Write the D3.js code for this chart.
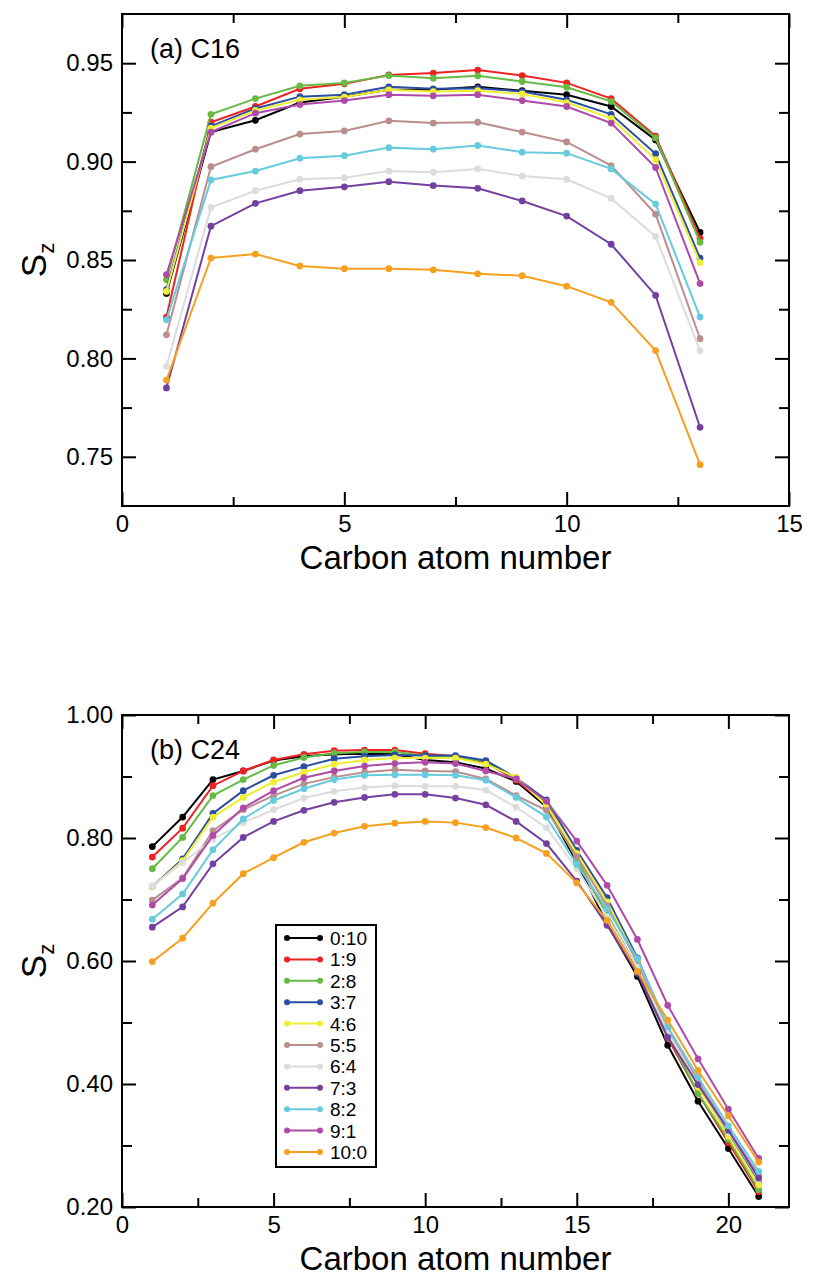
<!DOCTYPE html>
<html>
<head>
<meta charset="utf-8">
<title>Sz order parameter</title>
<script src="https://cdn.jsdelivr.net/npm/d3@7/dist/d3.min.js"></script>
<style>
  body { margin: 0; background: #fff; }
  svg text { font-family: "Liberation Sans", Arial, Helvetica, sans-serif; fill: #000; }
</style>
</head>
<body>
<svg id="chart" width="813" height="1284"></svg>
<script>
// legend labels and colours (same order as the legend)
var ratios = ["0:10", "1:9", "2:8", "3:7", "4:6", "5:5", "6:4", "7:3", "8:2", "9:1", "10:0"];
var colors = ["#000000", "#ee2222", "#66bb44", "#2b4da3", "#eeee33", "#bb8e8e",
  "#dcdcdc", "#7340a0", "#66ccdd", "#b04aa8", "#f7a020"];

// panel (a) C16 : carbon atoms 1..13
var c16Atoms = [1, 2, 3, 4, 5, 6, 7, 8, 9, 10, 11, 12, 13];
var c16 = [
  [0.833, 0.915, 0.921, 0.930, 0.933, 0.9365, 0.9365, 0.938, 0.936, 0.934, 0.928, 0.911, 0.864],
  [0.821, 0.920, 0.928, 0.937, 0.9395, 0.944, 0.945, 0.9465, 0.9437, 0.940, 0.932, 0.913, 0.861],
  [0.840, 0.924, 0.932, 0.9385, 0.940, 0.9437, 0.9424, 0.9436, 0.9407, 0.9378, 0.9306, 0.912, 0.859],
  [0.835, 0.918, 0.927, 0.933, 0.934, 0.938, 0.937, 0.9373, 0.9356, 0.9314, 0.924, 0.904, 0.851],
  [0.834, 0.917, 0.926, 0.9314, 0.9328, 0.9365, 0.9356, 0.936, 0.9344, 0.930, 0.922, 0.901, 0.8486],
  [0.812, 0.8974, 0.9063, 0.914, 0.9156, 0.9207, 0.9196, 0.920, 0.915, 0.910, 0.898, 0.8733, 0.810],
  [0.796, 0.8767, 0.8852, 0.891, 0.8918, 0.8952, 0.8946, 0.8963, 0.8927, 0.891, 0.8813, 0.862, 0.804],
  [0.785, 0.8672, 0.8788, 0.8852, 0.8872, 0.8898, 0.8878, 0.8864, 0.880, 0.8723, 0.858, 0.832, 0.765],
  [0.8196, 0.8907, 0.8952, 0.9017, 0.903, 0.9071, 0.9063, 0.9082, 0.9048, 0.9043, 0.8963, 0.8784, 0.821],
  [0.8426, 0.915, 0.9246, 0.929, 0.931, 0.934, 0.9334, 0.934, 0.931, 0.928, 0.9196, 0.897, 0.838],
  [0.789, 0.851, 0.853, 0.847, 0.8456, 0.8456, 0.845, 0.843, 0.842, 0.8367, 0.8285, 0.804, 0.746]
];

// panel (b) C24 : carbon atoms 1..21
var c24Atoms = [1, 2, 3, 4, 5, 6, 7, 8, 9, 10, 11, 12, 13, 14, 15, 16, 17, 18, 19, 20, 21];
var c24 = [
  [0.786, 0.834, 0.895, 0.909, 0.926, 0.933, 0.936, 0.937, 0.936, 0.927, 0.923, 0.913, 0.892, 0.851, 0.760, 0.660, 0.575, 0.463, 0.372, 0.295, 0.217],
  [0.769, 0.816, 0.885, 0.909, 0.927, 0.936, 0.942, 0.943, 0.943, 0.937, 0.933, 0.923, 0.894, 0.855, 0.765, 0.675, 0.585, 0.475, 0.385, 0.305, 0.225],
  [0.750, 0.801, 0.869, 0.895, 0.918, 0.931, 0.938, 0.940, 0.940, 0.934, 0.931, 0.925, 0.896, 0.858, 0.765, 0.675, 0.590, 0.480, 0.385, 0.310, 0.228],
  [0.721, 0.766, 0.840, 0.877, 0.902, 0.916, 0.929, 0.933, 0.935, 0.934, 0.934, 0.926, 0.898, 0.862, 0.780, 0.703, 0.605, 0.490, 0.400, 0.320, 0.242],
  [0.721, 0.763, 0.834, 0.866, 0.891, 0.907, 0.920, 0.927, 0.930, 0.930, 0.930, 0.920, 0.899, 0.853, 0.775, 0.696, 0.600, 0.485, 0.395, 0.315, 0.236],
  [0.699, 0.735, 0.812, 0.846, 0.869, 0.888, 0.899, 0.907, 0.911, 0.909, 0.908, 0.896, 0.869, 0.845, 0.770, 0.690, 0.598, 0.488, 0.405, 0.325, 0.252],
  [0.722, 0.760, 0.798, 0.825, 0.846, 0.865, 0.876, 0.882, 0.885, 0.884, 0.884, 0.878, 0.850, 0.817, 0.750, 0.672, 0.590, 0.485, 0.400, 0.322, 0.245],
  [0.655, 0.688, 0.758, 0.801, 0.827, 0.845, 0.858, 0.866, 0.871, 0.871, 0.865, 0.854, 0.827, 0.791, 0.730, 0.658, 0.580, 0.476, 0.399, 0.325, 0.247],
  [0.668, 0.709, 0.781, 0.831, 0.861, 0.880, 0.895, 0.902, 0.903, 0.903, 0.902, 0.894, 0.866, 0.834, 0.757, 0.685, 0.604, 0.493, 0.411, 0.332, 0.258],
  [0.691, 0.734, 0.804, 0.849, 0.877, 0.898, 0.909, 0.917, 0.921, 0.923, 0.921, 0.909, 0.896, 0.860, 0.795, 0.723, 0.635, 0.528, 0.441, 0.359, 0.279],
  [0.599, 0.637, 0.694, 0.742, 0.768, 0.793, 0.808, 0.819, 0.824, 0.827, 0.825, 0.817, 0.800, 0.775, 0.727, 0.666, 0.583, 0.504, 0.422, 0.348, 0.273]
];

// axis ticks
var c16XTicks = [0, 5, 10, 15];
var c16XMinor = [2.5, 7.5, 12.5];
var c16YTicks = [0.75, 0.80, 0.85, 0.90, 0.95];
var c16YMinor = [0.775, 0.825, 0.875, 0.925];
var c24XTicks = [0, 5, 10, 15, 20];
var c24XMinor = [2.5, 7.5, 12.5, 17.5];
var c24YTicks = [0.20, 0.40, 0.60, 0.80, 1.00];
var c24YMinor = [0.30, 0.50, 0.70, 0.90];

var svg = d3.select("#chart");

function drawPanel(opt) {
  var left = 122, right = 789;
  var x = d3.scaleLinear().domain(opt.xDomain).range([left, right]);
  var y = d3.scaleLinear().domain(opt.yDomain).range([opt.bottom, opt.top]);
  var g = svg.append("g");

  // ticks on all four sides, pointing inward
  function ticks(axisFn, scale, values, size, pos, fmt) {
    var ax = axisFn(scale).tickValues(values).tickSize(-size).tickPadding(9);
    ax.tickFormat(fmt || "");
    var a = g.append("g").attr("transform", pos).call(ax);
    a.select(".domain").remove();
    a.selectAll("line").attr("stroke", "#000").attr("stroke-width", 2);
    a.selectAll("text").style("font-size", "24px");
    return a;
  }
  var bx = "translate(0," + opt.bottom + ")", tx = "translate(0," + opt.top + ")";
  var ly = "translate(" + left + ",0)", ry = "translate(" + right + ",0)";
  ticks(d3.axisBottom, x, opt.xTicks, 14, bx, d3.format("d"));
  ticks(d3.axisBottom, x, opt.xMinor, 9, bx);
  ticks(d3.axisTop, x, opt.xTicks, 14, tx);
  ticks(d3.axisTop, x, opt.xMinor, 9, tx);
  ticks(d3.axisLeft, y, opt.yTicks, 14, ly, d3.format(".2f"));
  ticks(d3.axisLeft, y, opt.yMinor, 10, ly);
  ticks(d3.axisRight, y, opt.yTicks, 14, ry);
  ticks(d3.axisRight, y, opt.yMinor, 10, ry);

  g.append("rect")
    .attr("x", left).attr("y", opt.top)
    .attr("width", right - left).attr("height", opt.bottom - opt.top)
    .attr("fill", "none").attr("stroke", "#000").attr("stroke-width", 2);

  var line = d3.line()
    .x(function (d) { return x(d[0]); })
    .y(function (d) { return y(d[1]); });
  var marker = d3.symbol().type(d3.symbolCircle).size(36);

  opt.series.forEach(function (vals, i) {
    var pts = opt.atoms.map(function (a, j) { return [a, vals[j]]; });
    var s = g.append("g");
    s.append("path").attr("d", line(pts))
      .attr("fill", "none").attr("stroke", colors[i]).attr("stroke-width", 2);
    s.selectAll("path.m").data(pts).enter().append("path")
      .attr("class", "m")
      .attr("transform", function (d) { return "translate(" + x(d[0]) + "," + y(d[1]) + ")"; })
      .attr("d", marker).attr("fill", colors[i]);
  });

  g.append("text").attr("x", 150).attr("y", opt.top + 44)
    .style("font-size", "27px").text(opt.title);

  g.append("text")
    .attr("x", (left + right) / 2).attr("y", opt.bottom + 63)
    .attr("text-anchor", "middle").style("font-size", "33px")
    .text("Carbon atom number");

  var yl = g.append("text")
    .attr("transform", "translate(46," + ((opt.top + opt.bottom) / 2) + ") rotate(-90)")
    .attr("text-anchor", "middle").style("font-size", "35px");
  yl.append("tspan").text("S");
  yl.append("tspan").attr("dy", 8).style("font-size", "22px").text("z");

  return { x: x, y: y, g: g };
}

drawPanel({
  xDomain: [0, 15], yDomain: [0.725, 0.975], top: 14, bottom: 506,
  xTicks: c16XTicks, xMinor: c16XMinor, yTicks: c16YTicks, yMinor: c16YMinor,
  atoms: c16Atoms, series: c16, title: "(a) C16"
});

drawPanel({
  xDomain: [0, 22], yDomain: [0.2, 1.0], top: 715, bottom: 1207,
  xTicks: c24XTicks, xMinor: c24XMinor, yTicks: c24YTicks, yMinor: c24YMinor,
  atoms: c24Atoms, series: c24, title: "(b) C24"
});

// legend for panel (b)
var leg = svg.append("g").attr("transform", "translate(276,925)");
leg.append("rect").attr("width", 100).attr("height", 242)
  .attr("fill", "#fff").attr("stroke", "#000").attr("stroke-width", 2);
ratios.forEach(function (r, i) {
  var yy = 13 + i * 21.4;
  var row = leg.append("g").attr("transform", "translate(0," + yy + ")");
  row.append("line").attr("x1", 11).attr("x2", 44)
    .attr("stroke", colors[i]).attr("stroke-width", 2);
  [11, 44].forEach(function (cx) {
    row.append("circle").attr("cx", cx).attr("r", 3).attr("fill", colors[i]);
  });
  row.append("text").attr("x", 54).attr("y", 7)
    .style("font-size", "19px").text(r);
});
</script>
</body>
</html>
